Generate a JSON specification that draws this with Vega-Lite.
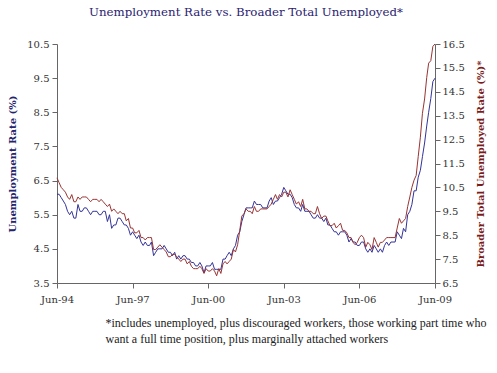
{
  "$schema": "https://vega.github.io/schema/vega-lite/v6.json",
  "width": 378,
  "height": 239,
  "autosize": {"type": "none"},
  "padding": {"left": 57, "top": 44, "right": 62, "bottom": 90},
  "background": "white",
  "config": {"view": {"stroke": null}, "font": "DejaVu Serif"},
  "title": {"text": "Unemployment Rate vs. Broader Total Unemployed*", "font": "DejaVu Serif", "fontSize": 11.8, "fontWeight": "normal", "color": "#2a2270", "offset": 20, "anchor": "middle"},
  "data": {"values": [
    {"date":"1994-06-01","u3":6.1,"u6":10.9},{"date":"1994-07-01","u3":6.1,"u6":10.7},{"date":"1994-08-01","u3":6.0,"u6":10.5},{"date":"1994-09-01","u3":5.9,"u6":10.4},{"date":"1994-10-01","u3":5.8,"u6":10.3},{"date":"1994-11-01","u3":5.6,"u6":10.1},{"date":"1994-12-01","u3":5.5,"u6":10.0},
    {"date":"1995-01-01","u3":5.6,"u6":10.2},{"date":"1995-02-01","u3":5.4,"u6":9.9},{"date":"1995-03-01","u3":5.4,"u6":9.9},{"date":"1995-04-01","u3":5.8,"u6":10.1},{"date":"1995-05-01","u3":5.6,"u6":10.0},{"date":"1995-06-01","u3":5.6,"u6":10.1},{"date":"1995-07-01","u3":5.7,"u6":10.1},{"date":"1995-08-01","u3":5.7,"u6":10.1},{"date":"1995-09-01","u3":5.6,"u6":10.0},{"date":"1995-10-01","u3":5.5,"u6":9.9},{"date":"1995-11-01","u3":5.6,"u6":10.0},{"date":"1995-12-01","u3":5.6,"u6":10.0},
    {"date":"1996-01-01","u3":5.6,"u6":10.0},{"date":"1996-02-01","u3":5.5,"u6":9.9},{"date":"1996-03-01","u3":5.5,"u6":10.0},{"date":"1996-04-01","u3":5.6,"u6":9.9},{"date":"1996-05-01","u3":5.6,"u6":9.8},{"date":"1996-06-01","u3":5.3,"u6":9.7},{"date":"1996-07-01","u3":5.5,"u6":9.8},{"date":"1996-08-01","u3":5.1,"u6":9.5},{"date":"1996-09-01","u3":5.2,"u6":9.6},{"date":"1996-10-01","u3":5.2,"u6":9.5},{"date":"1996-11-01","u3":5.4,"u6":9.4},{"date":"1996-12-01","u3":5.4,"u6":9.5},
    {"date":"1997-01-01","u3":5.3,"u6":9.4},{"date":"1997-02-01","u3":5.2,"u6":9.4},{"date":"1997-03-01","u3":5.2,"u6":9.1},{"date":"1997-04-01","u3":5.1,"u6":9.2},{"date":"1997-05-01","u3":4.9,"u6":8.8},{"date":"1997-06-01","u3":5.0,"u6":8.8},{"date":"1997-07-01","u3":4.9,"u6":8.6},{"date":"1997-08-01","u3":4.8,"u6":8.6},{"date":"1997-09-01","u3":4.9,"u6":8.7},{"date":"1997-10-01","u3":4.7,"u6":8.4},{"date":"1997-11-01","u3":4.6,"u6":8.4},{"date":"1997-12-01","u3":4.7,"u6":8.3},
    {"date":"1998-01-01","u3":4.6,"u6":8.4},{"date":"1998-02-01","u3":4.6,"u6":8.4},{"date":"1998-03-01","u3":4.7,"u6":8.4},{"date":"1998-04-01","u3":4.3,"u6":7.9},{"date":"1998-05-01","u3":4.4,"u6":7.9},{"date":"1998-06-01","u3":4.5,"u6":8.0},{"date":"1998-07-01","u3":4.5,"u6":8.1},{"date":"1998-08-01","u3":4.5,"u6":8.0},{"date":"1998-09-01","u3":4.6,"u6":7.9},{"date":"1998-10-01","u3":4.5,"u6":7.8},{"date":"1998-11-01","u3":4.4,"u6":7.6},{"date":"1998-12-01","u3":4.4,"u6":7.6},
    {"date":"1999-01-01","u3":4.3,"u6":7.7},{"date":"1999-02-01","u3":4.4,"u6":7.7},{"date":"1999-03-01","u3":4.2,"u6":7.6},{"date":"1999-04-01","u3":4.3,"u6":7.5},{"date":"1999-05-01","u3":4.2,"u6":7.4},{"date":"1999-06-01","u3":4.3,"u6":7.5},{"date":"1999-07-01","u3":4.3,"u6":7.5},{"date":"1999-08-01","u3":4.2,"u6":7.3},{"date":"1999-09-01","u3":4.2,"u6":7.4},{"date":"1999-10-01","u3":4.1,"u6":7.2},{"date":"1999-11-01","u3":4.1,"u6":7.1},{"date":"1999-12-01","u3":4.0,"u6":7.1},
    {"date":"2000-01-01","u3":4.0,"u6":7.1},{"date":"2000-02-01","u3":4.1,"u6":7.2},{"date":"2000-03-01","u3":4.0,"u6":7.1},{"date":"2000-04-01","u3":3.8,"u6":6.9},{"date":"2000-05-01","u3":4.0,"u6":7.1},{"date":"2000-06-01","u3":4.0,"u6":7.0},{"date":"2000-07-01","u3":4.0,"u6":7.0},{"date":"2000-08-01","u3":4.1,"u6":7.1},{"date":"2000-09-01","u3":3.9,"u6":7.0},{"date":"2000-10-01","u3":3.9,"u6":6.8},{"date":"2000-11-01","u3":3.9,"u6":7.1},{"date":"2000-12-01","u3":3.9,"u6":6.9},
    {"date":"2001-01-01","u3":4.2,"u6":7.3},{"date":"2001-02-01","u3":4.2,"u6":7.4},{"date":"2001-03-01","u3":4.3,"u6":7.3},{"date":"2001-04-01","u3":4.4,"u6":7.4},{"date":"2001-05-01","u3":4.3,"u6":7.5},{"date":"2001-06-01","u3":4.5,"u6":7.9},{"date":"2001-07-01","u3":4.6,"u6":7.8},{"date":"2001-08-01","u3":4.9,"u6":8.1},{"date":"2001-09-01","u3":5.0,"u6":8.7},{"date":"2001-10-01","u3":5.3,"u6":9.3},{"date":"2001-11-01","u3":5.5,"u6":9.4},{"date":"2001-12-01","u3":5.7,"u6":9.6},
    {"date":"2002-01-01","u3":5.7,"u6":9.5},{"date":"2002-02-01","u3":5.7,"u6":9.5},{"date":"2002-03-01","u3":5.7,"u6":9.4},{"date":"2002-04-01","u3":5.9,"u6":9.7},{"date":"2002-05-01","u3":5.8,"u6":9.5},{"date":"2002-06-01","u3":5.8,"u6":9.5},{"date":"2002-07-01","u3":5.8,"u6":9.6},{"date":"2002-08-01","u3":5.7,"u6":9.6},{"date":"2002-09-01","u3":5.7,"u6":9.6},{"date":"2002-10-01","u3":5.7,"u6":9.6},{"date":"2002-11-01","u3":5.9,"u6":9.7},{"date":"2002-12-01","u3":6.0,"u6":9.8},
    {"date":"2003-01-01","u3":5.8,"u6":10.0},{"date":"2003-02-01","u3":5.9,"u6":10.2},{"date":"2003-03-01","u3":5.9,"u6":10.0},{"date":"2003-04-01","u3":6.0,"u6":10.2},{"date":"2003-05-01","u3":6.1,"u6":10.1},{"date":"2003-06-01","u3":6.3,"u6":10.3},{"date":"2003-07-01","u3":6.2,"u6":10.3},{"date":"2003-08-01","u3":6.1,"u6":10.1},{"date":"2003-09-01","u3":6.1,"u6":10.4},{"date":"2003-10-01","u3":6.0,"u6":10.2},{"date":"2003-11-01","u3":5.8,"u6":10.0},{"date":"2003-12-01","u3":5.7,"u6":9.8},
    {"date":"2004-01-01","u3":5.7,"u6":9.9},{"date":"2004-02-01","u3":5.6,"u6":9.7},{"date":"2004-03-01","u3":5.8,"u6":10.0},{"date":"2004-04-01","u3":5.6,"u6":9.6},{"date":"2004-05-01","u3":5.6,"u6":9.6},{"date":"2004-06-01","u3":5.6,"u6":9.5},{"date":"2004-07-01","u3":5.5,"u6":9.5},{"date":"2004-08-01","u3":5.4,"u6":9.4},{"date":"2004-09-01","u3":5.4,"u6":9.4},{"date":"2004-10-01","u3":5.5,"u6":9.7},{"date":"2004-11-01","u3":5.4,"u6":9.4},{"date":"2004-12-01","u3":5.4,"u6":9.2},
    {"date":"2005-01-01","u3":5.3,"u6":9.3},{"date":"2005-02-01","u3":5.4,"u6":9.3},{"date":"2005-03-01","u3":5.2,"u6":9.1},{"date":"2005-04-01","u3":5.2,"u6":8.9},{"date":"2005-05-01","u3":5.1,"u6":8.9},{"date":"2005-06-01","u3":5.0,"u6":9.0},{"date":"2005-07-01","u3":5.0,"u6":8.8},{"date":"2005-08-01","u3":4.9,"u6":8.9},{"date":"2005-09-01","u3":5.0,"u6":9.0},{"date":"2005-10-01","u3":5.0,"u6":8.7},{"date":"2005-11-01","u3":5.0,"u6":8.7},{"date":"2005-12-01","u3":4.9,"u6":8.6},
    {"date":"2006-01-01","u3":4.7,"u6":8.4},{"date":"2006-02-01","u3":4.8,"u6":8.4},{"date":"2006-03-01","u3":4.7,"u6":8.2},{"date":"2006-04-01","u3":4.7,"u6":8.1},{"date":"2006-05-01","u3":4.6,"u6":8.2},{"date":"2006-06-01","u3":4.6,"u6":8.4},{"date":"2006-07-01","u3":4.7,"u6":8.5},{"date":"2006-08-01","u3":4.7,"u6":8.4},{"date":"2006-09-01","u3":4.5,"u6":8.0},{"date":"2006-10-01","u3":4.4,"u6":8.2},{"date":"2006-11-01","u3":4.5,"u6":8.1},{"date":"2006-12-01","u3":4.4,"u6":7.9},
    {"date":"2007-01-01","u3":4.6,"u6":8.4},{"date":"2007-02-01","u3":4.5,"u6":8.2},{"date":"2007-03-01","u3":4.4,"u6":8.0},{"date":"2007-04-01","u3":4.5,"u6":8.2},{"date":"2007-05-01","u3":4.4,"u6":8.2},{"date":"2007-06-01","u3":4.6,"u6":8.3},{"date":"2007-07-01","u3":4.7,"u6":8.4},{"date":"2007-08-01","u3":4.6,"u6":8.4},{"date":"2007-09-01","u3":4.7,"u6":8.4},{"date":"2007-10-01","u3":4.7,"u6":8.4},{"date":"2007-11-01","u3":4.7,"u6":8.4},{"date":"2007-12-01","u3":5.0,"u6":8.8},
    {"date":"2008-01-01","u3":4.9,"u6":9.2},{"date":"2008-02-01","u3":4.8,"u6":9.0},{"date":"2008-03-01","u3":5.1,"u6":9.1},{"date":"2008-04-01","u3":5.0,"u6":9.2},{"date":"2008-05-01","u3":5.5,"u6":9.7},{"date":"2008-06-01","u3":5.6,"u6":10.1},{"date":"2008-07-01","u3":5.8,"u6":10.5},{"date":"2008-08-01","u3":6.2,"u6":10.8},{"date":"2008-09-01","u3":6.2,"u6":11.0},{"date":"2008-10-01","u3":6.6,"u6":11.8},{"date":"2008-11-01","u3":6.8,"u6":12.6},{"date":"2008-12-01","u3":7.2,"u6":13.6},
    {"date":"2009-01-01","u3":7.6,"u6":14.2},{"date":"2009-02-01","u3":8.1,"u6":15.1},{"date":"2009-03-01","u3":8.5,"u6":15.7},{"date":"2009-04-01","u3":8.9,"u6":15.8},{"date":"2009-05-01","u3":9.4,"u6":16.4},{"date":"2009-06-01","u3":9.5,"u6":16.5}
  ]},
  "encoding": {
    "x": {
      "field": "date", "type": "temporal",
      "scale": {"type": "utc", "domain": [{"year": 1994, "month": 6, "date": 1, "utc": true}, {"year": 2009, "month": 6, "date": 1, "utc": true}]},
      "axis": {
        "values": [
          {"year": 1994, "month": 6, "date": 1, "utc": true},
          {"year": 1997, "month": 6, "date": 1, "utc": true},
          {"year": 2000, "month": 6, "date": 1, "utc": true},
          {"year": 2003, "month": 6, "date": 1, "utc": true},
          {"year": 2006, "month": 6, "date": 1, "utc": true},
          {"year": 2009, "month": 6, "date": 1, "utc": true}
        ],
        "labelExpr": "utcFormat(datum.value, '%b-%y')",
        "grid": false, "domainColor": "#666", "tickColor": "#666", "tickSize": 5,
        "labelFont": "DejaVu Serif", "labelFontSize": 10, "labelColor": "#333", "labelPadding": 6, "labelFlush": false,
        "title": ["*includes unemployed, plus discouraged workers, those working part time who", "want a full time position, plus marginally attached workers"],
        "titleFont": "Liberation Serif", "titleFontSize": 12, "titleFontWeight": "normal", "titleColor": "#222",
        "titleAlign": "left", "titleAnchor": "start", "titleX": 48, "titleY": 34, "titleBaseline": "top", "titleLineHeight": 16
      }
    }
  },
  "layer": [
    {
      "mark": {"type": "line", "color": "#333399", "strokeWidth": 1},
      "encoding": {
        "y": {
          "field": "u3", "type": "quantitative",
          "scale": {"domain": [3.5, 10.5], "nice": false, "zero": false},
          "axis": {
            "orient": "left", "values": [3.5, 4.5, 5.5, 6.5, 7.5, 8.5, 9.5, 10.5], "format": ".1f",
            "grid": false, "domainColor": "#666", "tickColor": "#666", "tickSize": 5,
            "labelFont": "DejaVu Serif", "labelFontSize": 10, "labelColor": "#333", "labelPadding": 3,
            "title": "Unemployment Rate (%)", "titleFont": "DejaVu Serif", "titleFontSize": 10, "titleFontWeight": "bold", "titleColor": "#23236e", "titlePadding": 9
          }
        }
      }
    },
    {
      "mark": {"type": "line", "color": "#993333", "strokeWidth": 1},
      "encoding": {
        "y": {
          "field": "u6", "type": "quantitative",
          "scale": {"domain": [6.5, 16.5], "nice": false, "zero": false},
          "axis": {
            "orient": "right", "values": [6.5, 7.5, 8.5, 9.5, 10.5, 11.5, 12.5, 13.5, 14.5, 15.5, 16.5], "format": ".1f",
            "grid": false, "domainColor": "#666", "tickColor": "#666", "tickSize": 5,
            "labelFont": "DejaVu Serif", "labelFontSize": 10, "labelColor": "#333", "labelPadding": 2,
            "title": "Broader Total Unemployed Rate (%)*", "titleFont": "DejaVu Serif", "titleFontSize": 10, "titleFontWeight": "bold", "titleColor": "#7a1c1c", "titleAngle": 270, "titlePadding": 21
          }
        }
      }
    }
  ],
  "resolve": {"scale": {"y": "independent"}}
}
